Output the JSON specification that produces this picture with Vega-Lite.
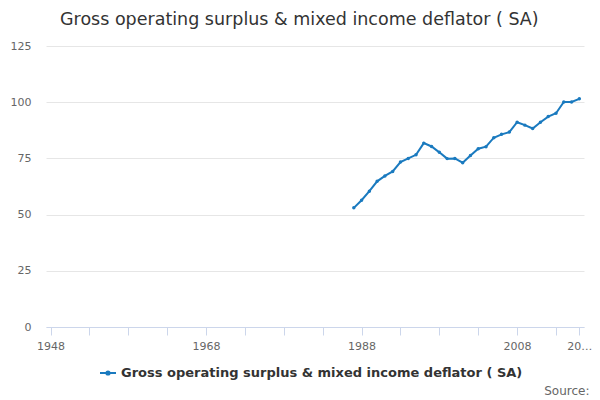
{
  "$schema": "https://vega.github.io/schema/vega-lite/v6.json",
  "autosize": "none",
  "width": 538,
  "height": 281,
  "padding": {"left": 46, "top": 46, "right": 16, "bottom": 73},
  "background": "white",
  "title": {
    "text": "Gross operating surplus & mixed income deflator ( SA)",
    "anchor": "start",
    "dx": 50,
    "offset": 12,
    "font": "DejaVu Sans",
    "fontSize": 17.5,
    "fontWeight": "normal",
    "color": "#333333"
  },
  "config": {
    "view": {"stroke": null},
    "font": "DejaVu Sans"
  },
  "data": {
    "values": [
      {"year": 1987, "value": 53.0, "series": "Gross operating surplus & mixed income deflator ( SA)"},
      {"year": 1988, "value": 56.4, "series": "Gross operating surplus & mixed income deflator ( SA)"},
      {"year": 1989, "value": 60.4, "series": "Gross operating surplus & mixed income deflator ( SA)"},
      {"year": 1990, "value": 64.8, "series": "Gross operating surplus & mixed income deflator ( SA)"},
      {"year": 1991, "value": 67.2, "series": "Gross operating surplus & mixed income deflator ( SA)"},
      {"year": 1992, "value": 69.2, "series": "Gross operating surplus & mixed income deflator ( SA)"},
      {"year": 1993, "value": 73.4, "series": "Gross operating surplus & mixed income deflator ( SA)"},
      {"year": 1994, "value": 75.0, "series": "Gross operating surplus & mixed income deflator ( SA)"},
      {"year": 1995, "value": 76.6, "series": "Gross operating surplus & mixed income deflator ( SA)"},
      {"year": 1996, "value": 81.8, "series": "Gross operating surplus & mixed income deflator ( SA)"},
      {"year": 1997, "value": 80.3, "series": "Gross operating surplus & mixed income deflator ( SA)"},
      {"year": 1998, "value": 77.7, "series": "Gross operating surplus & mixed income deflator ( SA)"},
      {"year": 1999, "value": 74.9, "series": "Gross operating surplus & mixed income deflator ( SA)"},
      {"year": 2000, "value": 75.0, "series": "Gross operating surplus & mixed income deflator ( SA)"},
      {"year": 2001, "value": 73.1, "series": "Gross operating surplus & mixed income deflator ( SA)"},
      {"year": 2002, "value": 76.3, "series": "Gross operating surplus & mixed income deflator ( SA)"},
      {"year": 2003, "value": 79.3, "series": "Gross operating surplus & mixed income deflator ( SA)"},
      {"year": 2004, "value": 80.2, "series": "Gross operating surplus & mixed income deflator ( SA)"},
      {"year": 2005, "value": 84.2, "series": "Gross operating surplus & mixed income deflator ( SA)"},
      {"year": 2006, "value": 85.7, "series": "Gross operating surplus & mixed income deflator ( SA)"},
      {"year": 2007, "value": 86.7, "series": "Gross operating surplus & mixed income deflator ( SA)"},
      {"year": 2008, "value": 91.1, "series": "Gross operating surplus & mixed income deflator ( SA)"},
      {"year": 2009, "value": 89.8, "series": "Gross operating surplus & mixed income deflator ( SA)"},
      {"year": 2010, "value": 88.3, "series": "Gross operating surplus & mixed income deflator ( SA)"},
      {"year": 2011, "value": 91.1, "series": "Gross operating surplus & mixed income deflator ( SA)"},
      {"year": 2012, "value": 93.6, "series": "Gross operating surplus & mixed income deflator ( SA)"},
      {"year": 2013, "value": 95.1, "series": "Gross operating surplus & mixed income deflator ( SA)"},
      {"year": 2014, "value": 100.1, "series": "Gross operating surplus & mixed income deflator ( SA)"},
      {"year": 2015, "value": 100.1, "series": "Gross operating surplus & mixed income deflator ( SA)"},
      {"year": 2016, "value": 101.5, "series": "Gross operating surplus & mixed income deflator ( SA)"}
    ]
  },
  "mark": {
    "type": "line",
    "strokeWidth": 2,
    "point": {"filled": true, "size": 12}
  },
  "encoding": {
    "x": {
      "field": "year",
      "type": "quantitative",
      "scale": {"domain": [1947.42, 2016.6], "nice": false, "zero": false},
      "axis": {
        "values": [1948, 1953, 1958, 1963, 1968, 1973, 1978, 1983, 1988, 1993, 1998, 2003, 2008, 2013, 2016],
        "format": "d",
        "labelExpr": "datum.value == 2016 ? '20…' : ((datum.value - 1948) % 20 == 0 ? datum.label : '')",
        "grid": false,
        "domainColor": "#ccd6eb",
        "tickColor": "#ccd6eb",
        "tickSize": 8,
        "labelPadding": 5,
        "labelFlush": false,
        "labelOverlap": false,
        "labelFont": "DejaVu Sans",
        "labelFontSize": 11,
        "labelColor": "#666666",
        "title": "Source:",
        "titleAnchor": "end",
        "titleAlign": "right",
        "titleBaseline": "alphabetic",
        "titleX": 543,
        "titleY": 67,
        "titleFont": "DejaVu Sans",
        "titleFontSize": 12,
        "titleFontWeight": "normal",
        "titleColor": "#666666"
      }
    },
    "y": {
      "field": "value",
      "type": "quantitative",
      "scale": {"domain": [0, 125], "nice": false},
      "axis": {
        "values": [0, 25, 50, 75, 100, 125],
        "title": null,
        "domain": false,
        "ticks": false,
        "gridColor": "#e6e6e6",
        "labelPadding": 15,
        "labelFont": "DejaVu Sans",
        "labelFontSize": 11,
        "labelColor": "#666666"
      }
    },
    "color": {
      "field": "series",
      "type": "nominal",
      "scale": {"range": ["#1a7abf"]},
      "legend": {
        "title": null,
        "orient": "none",
        "legendX": 53,
        "legendY": 318,
        "symbolType": "M-1,0H1M-0.2,0a0.2,0.2 0 1,0 0.4,0a0.2,0.2 0 1,0 -0.4,0",
        "symbolSize": 256,
        "symbolStrokeWidth": 2,
        "symbolFillColor": "#1a7abf",
        "symbolStrokeColor": "#1a7abf",
        "labelOffset": 4,
        "labelFont": "DejaVu Sans",
        "labelFontSize": 13,
        "labelFontWeight": "bold",
        "labelColor": "#333333",
        "labelLimit": 500
      }
    }
  }
}
